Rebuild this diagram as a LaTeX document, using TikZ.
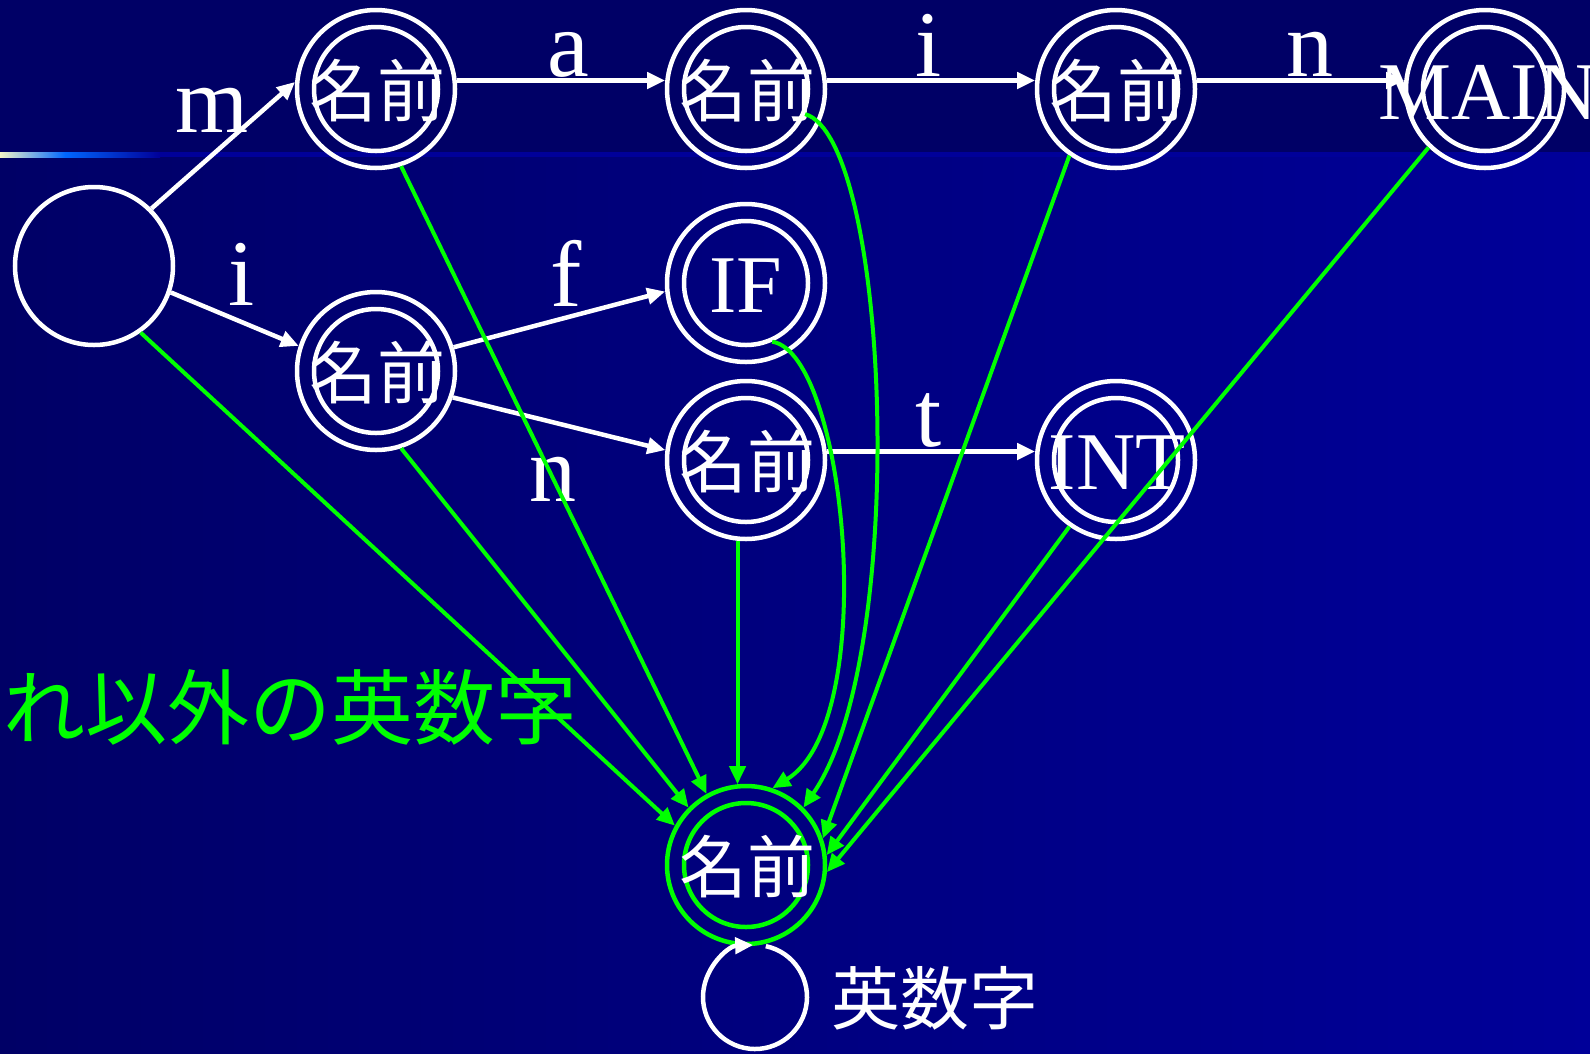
\documentclass[tikz,border=0pt]{standalone}
\usepackage{fontspec}
\setmainfont{Liberation Serif}
\newfontfamily\cjk{Noto Sans CJK JP}
\usetikzlibrary{arrows.meta}
\definecolor{bandblue}{RGB}{0,0,102}
\definecolor{brightblue}{RGB}{0,0,153}
\definecolor{lineblue}{RGB}{0,102,255}
\definecolor{cream}{RGB}{245,245,200}
\definecolor{lgreen}{RGB}{0,255,0}
\begin{document}
\begin{tikzpicture}[x=1pt,y=-1pt,
 outer/.style={circle,draw=white,line width=4.5pt,minimum size=158pt,inner sep=0pt},
 inner/.style={circle,draw=white,line width=4.5pt,minimum size=124pt,inner sep=0pt},
 jp/.style={font=\cjk\fontsize{68}{72}\selectfont,text=white,inner sep=0pt},
 nodelbl/.style={font=\fontsize{82}{86}\selectfont,text=white,inner sep=0pt},
 edgelbl/.style={font=\fontsize{94}{98}\selectfont,text=white,inner sep=0pt,anchor=base},
 warrow/.style={draw=white,line width=4.5pt,-{Triangle[length=18pt,width=16pt]}},
 garrow/.style={draw=lgreen,line width=4pt,-{Triangle[length=18pt,width=16pt]}}]
\useasboundingbox (0,0) rectangle (1590,1053);
% background
\fill[bandblue] (0,0) rectangle (1590,1053);
\shade[left color=bandblue,right color=brightblue] (0,157) rectangle (1590,1053);
\shade[left color=cream,right color=lineblue] (0,152) rectangle (65,157);
\shade[left color=lineblue,right color=brightblue] (65,152) rectangle (160,157);
\fill[brightblue] (160,152) rectangle (1590,157);
% states
\node[outer] (S) at (94,266) {};
\foreach \n/\x/\y in {N1/376/89,N2/746/89,N3/1116/89,MA/1485/89,N4/376/371,IF/746/283,N5/746/460,INT/1116/460}{
  \node[outer] (\n) at (\x,\y) {};
  \node[inner] (\n i) at (\x,\y) {};
}
\node[outer,draw=lgreen] (G) at (746,865) {};
\node[inner,draw=lgreen] (Gi) at (746,865) {};
% state texts
\node[jp] (t1) at (377,91) {名前};
\node[jp] (t2) at (747,91) {名前};
\node[jp] (t3) at (1117,91) {名前};
\node[jp] (t4) at (377,373) {名前};
\node[jp] (t5) at (747,462) {名前};
\node[jp] (tg) at (747,867) {名前};
\node[nodelbl] (tmain) at (1488,92) {MAIN};
\node[nodelbl] (tif) at (746,285.5) {IF};
\node[nodelbl] (tint) at (1117,462.5) {INT};
% white transitions
\draw[warrow] (S.45) -- (N1.175);
\draw[warrow] (S.341) -- (N4.162);
\draw[warrow] (N1.6) -- (N2.174);
\draw[warrow] (N2.6) -- (N3.174);
\draw[warrow] (N3.6) -- (MA.174);
\draw[warrow] (N4.17) -- (IF.186);
\draw[warrow] (N4.341) -- (N5.173);
\draw[warrow] (N5.6) -- (INT.174);
% edge labels
\node[edgelbl] (lm) at (212,132) {m};
\node[edgelbl] (li1) at (242,305) {i};
\node[edgelbl] (la) at (568,76) {a};
\node[edgelbl] (li2) at (929,76) {i};
\node[edgelbl] (ln1) at (1310,76) {n};
\node[edgelbl] (lf) at (566,306) {f};
\node[edgelbl] (ln2) at (553,501) {n};
\node[edgelbl] (lt) at (929,446) {t};
% green transitions
\draw[garrow] (S.305) -- (G.151);
\draw[garrow] (N1.288) -- (G.119);
\draw[garrow] (N4.288) -- (G.135);
\draw[garrow] (N5.264) -- (G.96);
\draw[garrow] (IFi.294) .. controls +(74,11) and +(109,-67) .. (G.71);
\draw[garrow] (N2i.337) .. controls +(85,25) and +(106,-153) .. (G.45);
\draw[garrow] (N3.235) -- (G.19);
\draw[garrow] (INT.235) -- (G.7);
\draw[garrow] (MA.226) -- (G.355);
% self loop
\coordinate (L) at (755,997);
\draw[white,line width=4.5pt,-{Triangle[length=18pt,width=16pt]}] ([shift={(-78:52)}]L) arc[start angle=-78,end angle=268,radius=52];
\node[font=\cjk\fontsize{69}{72}\selectfont,text=white,inner sep=0pt] (ens) at (934.5,998.5) {英数字};
\node[font=\cjk\fontsize{82}{86}\selectfont,text=lgreen,inner sep=0pt,anchor=west] (other) at (3,707.5) {れ以外の英数字};
\end{tikzpicture}
\end{document}
